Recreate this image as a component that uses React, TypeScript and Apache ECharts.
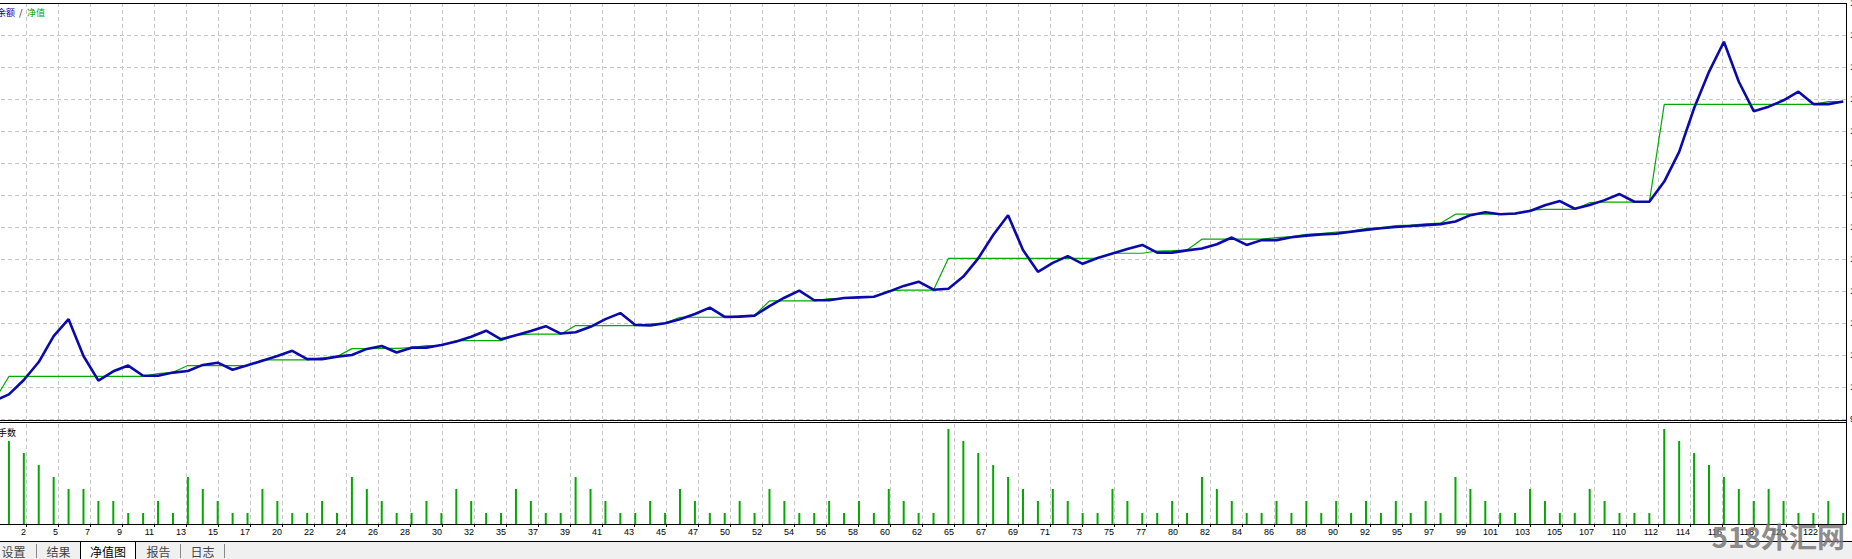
import React, { useEffect, useRef } from "react";
import * as echarts from "echarts";

// ---- data ----
// index 0 = initial deposit, 1..124 = trade number
const balanceLine: number[] = [
  9956, 9977, 10022, 10078, 10159, 10212, 10097, 10020, 10049, 10067,
  10035, 10035, 10045, 10050, 10069, 10076, 10054, 10068, 10082, 10097,
  10113, 10087, 10087, 10095, 10100, 10119, 10128, 10108, 10123, 10123,
  10131, 10142, 10157, 10176, 10149, 10162, 10175, 10190, 10167, 10171,
  10188, 10212, 10231, 10194, 10192, 10199, 10212, 10228, 10248, 10219,
  10220, 10223, 10253, 10279, 10301, 10271, 10271, 10278, 10280, 10282,
  10298, 10316, 10329, 10304, 10307, 10345, 10402, 10475, 10537, 10428,
  10360, 10388, 10409, 10385, 10403, 10417, 10431, 10444, 10420, 10420,
  10427, 10433, 10446, 10467, 10444, 10459, 10459, 10468, 10473, 10477,
  10479, 10485, 10491, 10496, 10500, 10503, 10506, 10509, 10517, 10537,
  10546, 10540, 10542, 10550, 10568, 10581, 10557, 10569, 10584, 10603,
  10579, 10579, 10642, 10735, 10871, 10985, 11079, 10954, 10862, 10876,
  10896, 10923, 10884, 10884, 10892,
];

const equityLine: number[] = [
  9956, 10033, 10033, 10033, 10033, 10033, 10033, 10033, 10033, 10033,
  10033, 10042, 10046, 10067, 10067, 10067, 10067, 10067, 10085, 10085,
  10085, 10085, 10091, 10095, 10120, 10120, 10121, 10121, 10123, 10129,
  10130, 10145, 10145, 10145, 10145, 10162, 10165, 10165, 10165, 10192,
  10192, 10192, 10192, 10192, 10197, 10200, 10218, 10218, 10218, 10218,
  10222, 10224, 10269, 10269, 10269, 10269, 10276, 10277, 10280, 10282,
  10301, 10303, 10303, 10303, 10402, 10402, 10402, 10402, 10402, 10402,
  10402, 10402, 10402, 10402, 10403, 10418, 10418, 10418, 10425, 10426,
  10428, 10462, 10462, 10462, 10462, 10462, 10467, 10470, 10477, 10479,
  10484, 10487, 10495, 10498, 10504, 10506, 10510, 10512, 10540, 10540,
  10540, 10540, 10540, 10553, 10555, 10555, 10555, 10576, 10578, 10578,
  10578, 10578, 10883, 10883, 10883, 10883, 10883, 10883, 10883, 10883,
  10883, 10883, 10883, 10892, 10892,
];

// lots per trade 1..124
const lots: number[] = [
  0.07, 0.06, 0.05, 0.04, 0.03, 0.03, 0.02, 0.02, 0.01, 0.01,
  0.02, 0.01, 0.04, 0.03, 0.02, 0.01, 0.01, 0.03, 0.02, 0.01,
  0.01, 0.02, 0.01, 0.04, 0.03, 0.02, 0.01, 0.01, 0.02, 0.01,
  0.03, 0.02, 0.01, 0.01, 0.03, 0.02, 0.01, 0.01, 0.04, 0.03,
  0.02, 0.01, 0.01, 0.02, 0.01, 0.03, 0.02, 0.01, 0.01, 0.02,
  0.01, 0.03, 0.02, 0.01, 0.01, 0.02, 0.01, 0.02, 0.01, 0.03,
  0.02, 0.01, 0.01, 0.08, 0.07, 0.06, 0.05, 0.04, 0.03, 0.02,
  0.03, 0.02, 0.01, 0.01, 0.03, 0.02, 0.01, 0.01, 0.02, 0.01,
  0.04, 0.03, 0.02, 0.01, 0.01, 0.02, 0.01, 0.02, 0.01, 0.02,
  0.01, 0.02, 0.01, 0.02, 0.01, 0.02, 0.01, 0.04, 0.03, 0.02,
  0.01, 0.01, 0.03, 0.02, 0.01, 0.01, 0.03, 0.02, 0.01, 0.01,
  0.01, 0.08, 0.07, 0.06, 0.05, 0.04, 0.03, 0.02, 0.03, 0.02,
  0.01, 0.01, 0.02, 0.01,
];

const xTickLabels: string[] = [
  "2", "5", "7", "9", "11", "13", "15", "17", "20", "22", "24", "26", "28", "30", "32",
  "35", "37", "39", "41", "43", "45", "47", "50", "52", "54", "56", "58", "60", "62",
  "65", "67", "69", "71", "73", "75", "77", "80", "82", "84", "86", "88", "90", "92",
  "95", "97", "99", "101", "103", "105", "107", "110", "112", "114", "116", "118", "120", "122",
];

const legendBalance = "余额";
const legendEquity = "净值";
const lotsTitle = "手数";
const tabs: string[] = ["设置", "结果", "净值图", "报告", "日志"];
const watermark = "518外汇网";

// ---- layout constants ----
const PX_PER_TRADE = 14.913;
const X_INTERVAL = 32 / PX_PER_TRADE;
const X_MAX = 1852 / PX_PER_TRADE;
const LOT_MIN = 1 / 1200;
const LOT_MAX = LOT_MIN + 100 / 1200;

const GRID_COLOR = "#c8c8c8";
const BLUE = "#0a0aaa";
const GREEN = "#00aa00";

export default function App() {
  const ref = useRef<HTMLDivElement>(null);

  useEffect(() => {
    if (!ref.current) return;
    const chart = echarts.init(ref.current, null, { renderer: "svg" });

    const splitLine = { show: true, lineStyle: { color: GRID_COLOR, type: [4, 3], width: 1 } };
    const txt = (text: string, x: number, y: number, fill: string, font: string, align = "left") => ({
      type: "text",
      x,
      y,
      z: 100,
      silent: true,
      style: {
        text,
        fill,
        font,
        align,
        textAlign: align,
        verticalAlign: "middle",
        textVerticalAlign: "middle",
      },
    });
    const hline = (x1: number, x2: number, y: number, color = "#000", w = 1) => ({
      type: "line",
      z: 100,
      silent: true,
      shape: { x1, y1: y, x2, y2: y },
      style: { stroke: color, lineWidth: w },
    });
    const vline = (x: number, y1: number, y2: number, color = "#000", w = 1) => ({
      type: "line",
      z: 100,
      silent: true,
      shape: { x1: x, y1, x2: x, y2 },
      style: { stroke: color, lineWidth: w },
    });

    const cjk = '"Noto Sans CJK SC", sans-serif';

    const option: any = {
      animation: false,
      backgroundColor: "#ffffff",
      grid: [
        { left: -6, top: 3, width: 1852, height: 416, containLabel: false, outerBoundsMode: "none" },
        { left: -6, top: 424, width: 1852, height: 100, containLabel: false, outerBoundsMode: "none" },
      ],
      xAxis: [
        {
          type: "value",
          gridIndex: 0,
          min: 0,
          max: X_MAX,
          interval: X_INTERVAL,
          axisLine: { show: false },
          axisTick: { show: false },
          axisLabel: { show: false },
          splitLine,
        },
        {
          type: "value",
          gridIndex: 1,
          min: 0,
          max: X_MAX,
          interval: X_INTERVAL,
          axisLine: { show: true, onZero: false, lineStyle: { color: "#000", width: 1 } },
          axisTick: { show: true, length: 3, lineStyle: { color: "#000" } },
          axisLabel: {
            show: true,
            align: "right",
            margin: 3,
            fontSize: 9,
            color: "#000",
            fontFamily: '"Liberation Sans", Arial, sans-serif',
            showMinLabel: false,
            showMaxLabel: false,
            hideOverlap: false,
            formatter: (v: number) => {
              const i = Math.round(v / X_INTERVAL) - 1;
              return i >= 0 && i < xTickLabels.length ? xTickLabels[i] : "";
            },
          },
          splitLine,
        },
      ],
      yAxis: [
        {
          type: "value",
          gridIndex: 0,
          position: "right",
          min: 9900,
          max: 11200,
          interval: 100,
          axisLine: { show: false },
          axisTick: { show: true, length: 3, lineStyle: { color: "#000" } },
          axisLabel: {
            show: true,
            margin: 4,
            fontSize: 9,
            color: "#000",
            fontFamily: '"Liberation Sans", Arial',
            formatter: (v: number) => v.toFixed(2),
          },
          splitLine,
        },
        {
          type: "value",
          gridIndex: 1,
          position: "right",
          min: LOT_MIN,
          max: LOT_MAX,
          axisLine: { show: false },
          axisTick: { show: false },
          axisLabel: { show: false },
          splitLine: { show: false },
        },
      ],
      series: [
        {
          name: legendEquity,
          type: "line",
          xAxisIndex: 0,
          yAxisIndex: 0,
          data: equityLine.map((v, i) => [i, v]),
          showSymbol: false,
          symbol: "none",
          lineStyle: { color: GREEN, width: 1.2 },
          z: 2,
        },
        {
          name: legendBalance,
          type: "line",
          xAxisIndex: 0,
          yAxisIndex: 0,
          data: balanceLine.map((v, i) => [i, v]),
          showSymbol: false,
          symbol: "none",
          lineStyle: { color: BLUE, width: 2.6 },
          z: 3,
        },
        {
          name: lotsTitle,
          type: "bar",
          xAxisIndex: 1,
          yAxisIndex: 1,
          data: lots.map((v, i) => [i + 1, v]),
          barWidth: 2,
          itemStyle: { color: GREEN },
        },
      ],
      graphic: [
        // tab strip
        {
          type: "rect",
          z: 90,
          silent: true,
          shape: { x: 0, y: 541, width: 1852, height: 18 },
          style: { fill: "#f0f0f0" },
        },
        {
          type: "rect",
          z: 91,
          silent: true,
          shape: { x: 80, y: 542, width: 55, height: 17 },
          style: { fill: "#ffffff" },
        },
        // panel borders
        hline(0, 1846, 3.5),
        hline(0, 1846, 420.5),
        hline(0, 1846, 422.5),
        vline(1846.5, 3, 524),
        hline(0, 1852, 541.5),
        vline(80.5, 541, 559),
        vline(135.5, 541, 559),
        txt(tabs[0], 13.5, 551, "#444444", `12px ${cjk}`, "center"),
        vline(36.5, 544, 558, "#888888"),
        txt(tabs[1], 58.5, 551, "#444444", `12px ${cjk}`, "center"),
        txt(tabs[2], 108, 551, "#000000", `12px ${cjk}`, "center"),
        txt(tabs[3], 158.5, 551, "#444444", `12px ${cjk}`, "center"),
        vline(180.5, 544, 558, "#888888"),
        txt(tabs[4], 202.5, 551, "#444444", `12px ${cjk}`, "center"),
        vline(224.5, 544, 558, "#888888"),
        // legend
        txt(legendBalance, -3, 12, "#0000aa", `9px ${cjk}`),
        txt("/", 19, 12, "#000000", `9px ${cjk}`),
        txt(legendEquity, 27, 12, "#00a000", `9px ${cjk}`),
        txt(lotsTitle, -2, 432, "#000000", `9px ${cjk}`),
        // watermark
        {
          type: "text",
          x: 1845,
          y: 536,
          z: 100,
          silent: true,
          style: {
            text: watermark,
            fill: "rgba(120,120,120,0.85)",
            font: `bold 28px ${cjk}`,
            align: "right",
            textAlign: "right",
            verticalAlign: "middle",
            textVerticalAlign: "middle",
          },
        },
      ],
    };

    chart.setOption(option);
    return () => chart.dispose();
  }, []);

  return (
    <div
      ref={ref}
      style={{ position: "fixed", left: 0, top: 0, width: 1852, height: 559, background: "#fff" }}
    />
  );
}
